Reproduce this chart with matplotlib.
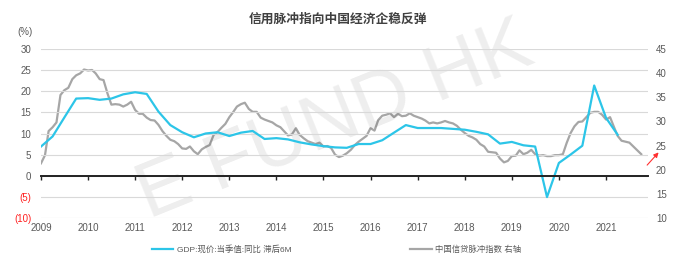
import matplotlib
matplotlib.use("Agg")
import matplotlib.pyplot as plt
import matplotlib.dates as mdates
import pandas as pd

plt.rcParams['font.family'] = ['Liberation Sans', 'Noto Sans CJK SC', 'DejaVu Sans']

title = "信用脉冲指向中国经济企稳反弹"
gdp_label = "GDP:现价:当季值:同比 滞后6M"
credit_label = "中国信贷脉冲指数 右轴"

# GDP nominal yoy (left axis, %), quarterly, starting 2009-01
gdp_start = "2009-01-01"
gdp_values = [6.9, 9.3, 13.8, 18.3, 18.4, 18.0, 18.3, 19.3, 19.8, 19.4,
              15.2, 12.0, 10.3, 9.1, 10.0, 10.3, 9.4, 10.2, 10.6, 8.7,
              8.9, 8.6, 7.9, 7.4, 7.0, 6.7, 6.6, 7.5, 7.5, 8.4,
              10.2, 12.0, 11.3, 11.3, 11.3, 11.1, 10.9, 10.4, 9.8, 7.6,
              8.0, 7.2, 6.9, -5.1, 3.0, 5.0, 7.1, 21.4, 13.7, 9.7]

# China credit impulse index (right axis), monthly, starting 2009-01
credit_start = "2009-01-01"
credit_values = [
    21.3, 23.0, 28.0, 28.8, 29.8, 35.5, 36.5, 37.0, 38.8, 39.6, 40.0, 40.8,
    40.6, 40.7, 40.0, 38.8, 38.6, 35.8, 33.5, 33.6, 33.5, 33.1, 33.5, 34.1,
    32.4, 31.6, 31.6, 30.8, 30.3, 30.2, 29.3, 28.0, 27.0, 26.2, 25.9, 25.3,
    24.4, 24.3, 24.8, 23.8, 23.2, 24.2, 24.7, 25.1, 27.2, 27.8, 28.7, 29.5,
    30.9, 32.0, 33.1, 33.6, 33.9, 32.6, 32.0, 32.0, 30.8, 30.4, 30.1, 29.8,
    29.2, 28.8, 28.0, 27.1, 27.3, 28.6, 27.2, 26.5, 25.9, 25.6, 25.3, 25.6,
    24.8, 24.9, 24.5, 23.1, 22.6, 22.9, 23.4, 24.1, 25.1, 25.8, 26.4, 27.0,
    28.6, 28.1, 30.3, 31.2, 31.4, 31.7, 30.9, 31.6, 31.1, 31.2, 31.7, 31.2,
    30.9, 30.6, 30.2, 29.6, 29.8, 29.6, 29.8, 30.1, 29.8, 29.6, 29.1, 28.3,
    27.6, 27.0, 26.7, 26.2, 25.3, 24.8, 23.7, 23.6, 23.5, 22.3, 21.5, 21.8,
    22.8, 22.9, 24.0, 23.2, 23.5, 24.1, 23.2, 22.9, 23.0, 22.8, 22.8, 23.0,
    23.0, 23.2, 25.5, 27.6, 29.0, 29.9, 30.0, 30.9, 31.8, 32.0, 32.0, 31.4,
    30.4, 30.9, 29.0, 27.0, 26.0, 25.8, 25.6, 24.8, 24.0, 23.2]

years = list(range(2009, 2022))
left_ticks = [30, 25, 20, 15, 10, 5, 0, -5, -10]
left_ticklabels = ["30", "25", "20", "15", "10", "5", "0", "(5)", "(10)"]
right_ticks = [45, 40, 35, 30, 25, 20, 15, 10]

gdp_dates = pd.date_range(gdp_start, periods=len(gdp_values), freq="QS")
credit_dates = pd.date_range(credit_start, periods=len(credit_values), freq="MS")

BLUE = "#2cc5e8"
GRAY = "#a6a6a6"
TXT = "#595959"

fig = plt.figure(figsize=(6.77, 2.54), dpi=100)
ax = fig.add_axes([41/677, 1-217.7/254, (647.7-41)/677, (217.7-49.3)/254])
ax2 = ax.twinx()
ax.set_zorder(ax2.get_zorder() + 1)
ax.patch.set_visible(False)

# watermark
fig.text(335/677, 1-122/254, "E FUND HK", fontsize=56, color="#000000", alpha=0.07,
         rotation=22, ha="center", va="center", family="Liberation Sans",
         zorder=0)

ax2.plot(credit_dates, credit_values, color=GRAY, lw=1.6, solid_joinstyle="round")
ax.plot(gdp_dates, gdp_values, color=BLUE, lw=1.6, solid_joinstyle="round")

xmin = pd.Timestamp("2009-01-01")
xmax = pd.Timestamp("2021-11-20")
ax.set_xlim(xmin, xmax)
ax.set_ylim(-10, 30)
ax2.set_ylim(10, 45)

for s in ["top", "left", "right"]:
    ax.spines[s].set_visible(False)
    ax2.spines[s].set_visible(False)
ax2.spines["bottom"].set_visible(False)
ax.spines["bottom"].set_position(("data", 0))
ax.spines["bottom"].set_color("#222222")
ax.spines["bottom"].set_linewidth(1.4)

ax.set_yticks(left_ticks)
ax.set_yticklabels(left_ticklabels)
ax.yaxis.grid(True, color="#d9d9d9", lw=0.8)
ax.set_axisbelow(True)
ax.tick_params(axis="y", length=0, pad=7, labelsize=7, labelcolor=TXT)
for lbl, v in zip(ax.get_yticklabels(), left_ticks):
    if v < 0:
        lbl.set_color("#ff2020")

ax2.set_yticks(right_ticks)
ax2.tick_params(axis="y", length=0, pad=6, labelsize=7, labelcolor=TXT)

year_dates = [pd.Timestamp(f"{y}-01-01") for y in years]
ax.set_xticks(year_dates)
ax.tick_params(axis="x", direction="out", length=3, width=1, color="#222222",
               labelbottom=False)

sec = ax.secondary_xaxis(0)
sec.set_xticks(year_dates)
sec.xaxis.set_major_formatter(mdates.DateFormatter("%Y"))
sec.tick_params(axis="x", length=0, pad=4, labelsize=7, labelcolor=TXT)
sec.spines["bottom"].set_visible(False)

fig.text(0.4985, 1-20/254, title, ha="center", va="center", fontsize=9.2,
         fontweight="bold", color="#404040")
fig.text(25/677, 1-32/254, "(%)", ha="center", va="center", fontsize=7,
         color=TXT)

# red arrow
ax.annotate("", xy=(1.021, 0.40), xytext=(0.996, 0.30),
            xycoords="axes fraction", textcoords="axes fraction",
            arrowprops=dict(arrowstyle="-|>", color="#ff3030", lw=0.8,
                            mutation_scale=7), annotation_clip=False)

h1, = ax.plot([], [], color=BLUE, lw=1.6)
h2, = ax.plot([], [], color=GRAY, lw=1.6)
fig.legend([h1, h2], [gdp_label, credit_label], loc="center",
           bbox_to_anchor=(0.497, 1-249.5/254), ncol=2, frameon=False,
           fontsize=6, handlelength=2.6, handletextpad=0.4,
           columnspacing=14.3, borderpad=0, labelcolor=TXT)

fig.savefig("out.png", dpi=100)
